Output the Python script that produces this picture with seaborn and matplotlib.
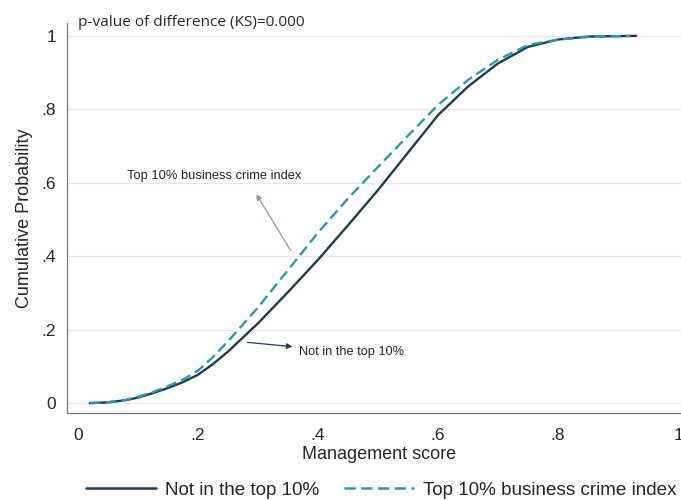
import matplotlib
matplotlib.use("Agg")
import matplotlib.pyplot as plt
import seaborn as sns
import pandas as pd
from matplotlib.lines import Line2D

# ---- data ----
score_not = [0.02, 0.05, 0.08, 0.10, 0.125, 0.15, 0.175, 0.20, 0.225, 0.25, 0.30, 0.35, 0.40, 0.45,
             0.50, 0.55, 0.60, 0.65, 0.70, 0.75, 0.80, 0.85, 0.93]
cdf_not = [0.0, 0.002, 0.008, 0.015, 0.027, 0.041, 0.057, 0.077, 0.106, 0.140, 0.217, 0.302, 0.390, 0.484,
           0.580, 0.682, 0.784, 0.862, 0.925, 0.970, 0.990, 0.998, 1.0]

score_top = [0.02, 0.05, 0.08, 0.10, 0.125, 0.15, 0.175, 0.20, 0.225, 0.25, 0.30, 0.35, 0.40, 0.45,
             0.50, 0.55, 0.60, 0.65, 0.70, 0.75, 0.80, 0.85, 0.92]
cdf_top = [0.0, 0.002, 0.009, 0.017, 0.030, 0.046, 0.064, 0.088, 0.125, 0.168, 0.260, 0.362, 0.464, 0.557,
           0.643, 0.728, 0.812, 0.880, 0.935, 0.975, 0.990, 0.997, 1.0]

series_labels = ["Not in the top 10%", "Top 10% business crime index"]
x_ticks = [0, 0.2, 0.4, 0.6, 0.8, 1.0]
x_ticklabels = ["0", ".2", ".4", ".6", ".8", "1"]
y_ticks = [0, 0.2, 0.4, 0.6, 0.8, 1.0]
y_ticklabels = ["0", ".2", ".4", ".6", ".8", "1"]

df = pd.concat([
    pd.DataFrame({"score": score_not, "cdf": cdf_not, "group": series_labels[0]}),
    pd.DataFrame({"score": score_top, "cdf": cdf_top, "group": series_labels[1]}),
])

sns.set_theme(style="white")
plt.rcParams["font.family"] = ["Liberation Sans", "DejaVu Sans"]

NAVY = "#1e3a56"
TEAL = "#2a97b3"

fig = plt.figure(figsize=(6.81, 5.00), dpi=100)
ax = fig.add_axes([0.0984, 0.174, 0.915, 0.780])

sns.lineplot(data=df, x="score", y="cdf", hue="group", style="group",
             hue_order=series_labels, style_order=series_labels,
             palette={series_labels[0]: NAVY, series_labels[1]: TEAL},
             dashes={series_labels[0]: "", series_labels[1]: (4.5, 2.2)},
             linewidth=1.7, ax=ax, legend=False, sort=True)

ax.set_xlim(-0.018, 1.02)
ax.set_ylim(-0.027, 1.035)
ax.set_xticks(x_ticks)
ax.set_xticklabels(x_ticklabels, fontsize=12.5)
ax.set_yticks(y_ticks)
ax.set_yticklabels(y_ticklabels, fontsize=12.5)
ax.tick_params(axis="both", direction="out", length=5, width=0.9, color="#777777")
ax.tick_params(axis="x", pad=6)
ax.tick_params(axis="y", pad=3)
ax.yaxis.grid(True, color="#e6e6e6", linewidth=1.0)
ax.xaxis.grid(False)
for s in ["top", "right"]:
    ax.spines[s].set_visible(False)
for s in ["left", "bottom"]:
    ax.spines[s].set_color("#777777")
    ax.spines[s].set_linewidth(0.9)

ax.set_xlabel("Management score", fontsize=13, labelpad=2)
ax.set_ylabel("Cumulative Probability", fontsize=13, labelpad=6)

# annotations
ax.annotate("", xy=(0.362, 0.153), xytext=(0.278, 0.166),
            arrowprops=dict(arrowstyle="-|>", color=NAVY, lw=0.9, mutation_scale=8))
ax.text(0.368, 0.139, "Not in the top 10%", fontsize=9.2, ha="left", va="center")
ax.annotate("", xy=(0.295, 0.575), xytext=(0.357, 0.409),
            arrowprops=dict(arrowstyle="-|>", color="#8a93b0", lw=0.9,
                            mutation_scale=8))
ax.text(0.228, 0.619, "Top 10% business crime index", fontsize=9.3, ha="center", va="center")

fig.text(78 / 681, 1 - 22 / 500, "p-value of difference (KS)=0.000",
         fontsize=11.1, ha="left", va="center", family=["Open Sans", "DejaVu Sans"])

# legend
handles = [Line2D([], [], color=NAVY, lw=1.8),
           Line2D([], [], color=TEAL, lw=1.8, dashes=(4.5, 2.2))]
fig.legend(handles, series_labels, loc="center", bbox_to_anchor=(0.56, 1 - 490 / 500),
           ncol=2, frameon=False, fontsize=13.6, handlelength=3.7, columnspacing=1.3,
           handletextpad=0.5)

fig.savefig("out.png", dpi=100, facecolor="white")
